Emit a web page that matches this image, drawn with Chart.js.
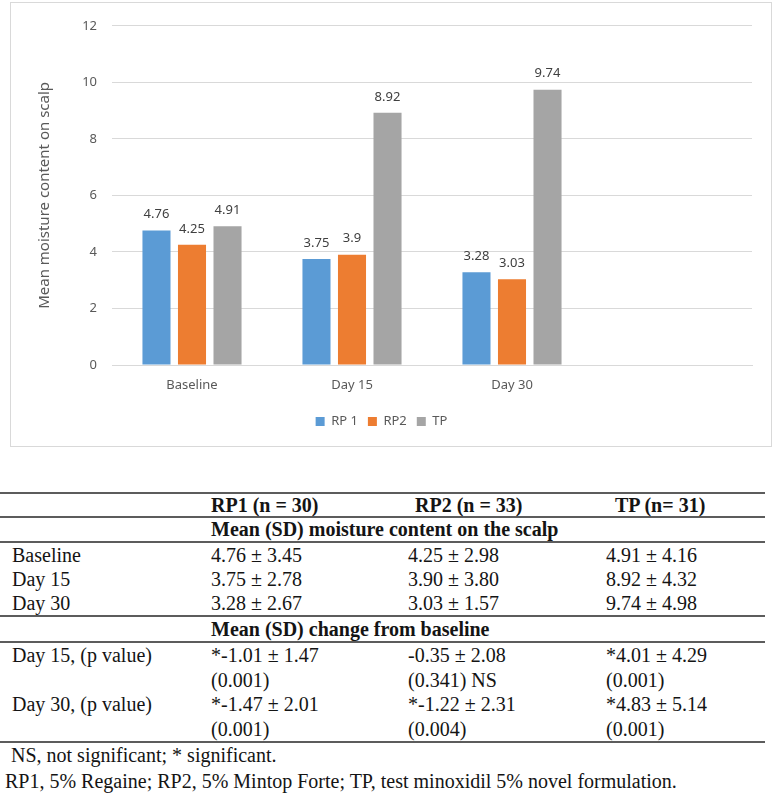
<!DOCTYPE html>
<html>
<head>
<meta charset="utf-8">
<title>Mean moisture content on scalp</title>
<script src="https://cdn.jsdelivr.net/npm/chart.js@4/dist/chart.umd.min.js"></script>
<style>
  html, body { margin:0; padding:0; background:#fff; }
  body { width:776px; height:796px; position:relative; overflow:hidden; }

  /* chart frame */
  #chartBox {
    position:absolute; left:10px; top:2px;
    width:762px; height:445px;
    box-sizing:border-box;
    border:1px solid #d9d9d9;
  }
  #chartBox canvas { display:block; }

  /* table under the chart */
  #tableBox {
    position:absolute; left:0; top:492px; width:765px;
    font-family:"Liberation Serif", "Times New Roman", serif;
    font-size:20px; color:#141414;
  }
  .row   { display:flex; height:24px; line-height:24px; white-space:nowrap; }
  .rule  { border-top:2px solid #5c5c5c; }
  .head  { height:22px; line-height:22px; font-weight:bold; }
  .sect  { height:23px; line-height:23px; font-weight:bold; padding-left:211px; }
  .sect2 { height:24px; line-height:24px; font-weight:bold; padding-left:211px; }
  .pv    { height:24.5px; line-height:24.5px; }
  .c0 { width:200px; padding-left:12px; box-sizing:border-box; }
  .c1 { width:198px; padding-left:11px; box-sizing:border-box; }
  .c2 { width:198px; padding-left:10px; box-sizing:border-box; }
  .c3 { width:169px; padding-left:10px; box-sizing:border-box; }
  .head .c2 { padding-left:17px; }
  .head .c3 { padding-left:19px; }
  .note  { height:24px; line-height:24px; padding-left:11px; white-space:nowrap; }
  .note2 { height:26px; line-height:26px; padding-left:5px; white-space:nowrap; margin-top:1px; }
</style>
</head>
<body>

<div id="chartBox"><canvas id="moistureChart" width="760" height="443"></canvas></div>

<div id="tableBox">
  <div class="row head rule">
    <div class="c0"></div>
    <div class="c1">RP1 (n = 30)</div>
    <div class="c2">RP2 (n = 33)</div>
    <div class="c3">TP (n= 31)</div>
  </div>
  <div class="row sect rule">Mean (SD) moisture content on the scalp</div>
  <div class="row rule">
    <div class="c0">Baseline</div>
    <div class="c1">4.76 ± 3.45</div>
    <div class="c2">4.25 ± 2.98</div>
    <div class="c3">4.91 ± 4.16</div>
  </div>
  <div class="row">
    <div class="c0">Day 15</div>
    <div class="c1">3.75 ± 2.78</div>
    <div class="c2">3.90 ± 3.80</div>
    <div class="c3">8.92 ± 4.32</div>
  </div>
  <div class="row">
    <div class="c0">Day 30</div>
    <div class="c1">3.28 ± 2.67</div>
    <div class="c2">3.03 ± 1.57</div>
    <div class="c3">9.74 ± 4.98</div>
  </div>
  <div class="row sect2 rule">Mean (SD) change from baseline</div>
  <div class="row pv rule">
    <div class="c0">Day 15, (p value)</div>
    <div class="c1">*-1.01 ± 1.47</div>
    <div class="c2">-0.35 ± 2.08</div>
    <div class="c3">*4.01 ± 4.29</div>
  </div>
  <div class="row pv">
    <div class="c0"></div>
    <div class="c1">(0.001)</div>
    <div class="c2">(0.341) NS</div>
    <div class="c3">(0.001)</div>
  </div>
  <div class="row pv">
    <div class="c0">Day 30, (p value)</div>
    <div class="c1">*-1.47 ± 2.01</div>
    <div class="c2">*-1.22 ± 2.31</div>
    <div class="c3">*4.83 ± 5.14</div>
  </div>
  <div class="row pv">
    <div class="c0"></div>
    <div class="c1">(0.001)</div>
    <div class="c2">(0.004)</div>
    <div class="c3">(0.001)</div>
  </div>
  <div class="note rule">NS, not significant; * significant.</div>
  <div class="note2">RP1, 5% Regaine; RP2, 5% Mintop Forte; TP, test minoxidil 5% novel formulation.</div>
</div>

<script>
/* -------------------------------------------
   DATA
   ------------------------------------------- */

// last category is left empty, like the original sheet
const categories = ["Baseline", "Day 15", "Day 30", ""];
const rp1Values  = [4.76, 3.75, 3.28, null];
const rp2Values  = [4.25, 3.9, 3.03, null];
const tpValues   = [4.91, 8.92, 9.74, null];

const seriesNames  = ["RP 1", "RP2", "TP"];
const seriesColors = ["#5b9bd5", "#ed7d31", "#a5a5a5"];

const yMin  = 0;
const yMax  = 12;
const yStep = 2;

const yTitle = "Mean moisture content on scalp";


/* -------------------------------------------
   VALUE LABELS above bars
   ------------------------------------------- */

const valueLabels = {
  id:"valueLabels",
  afterDatasetsDraw(chart){
    const ctx = chart.ctx;
    ctx.save();
    ctx.font = "13px 'Noto Sans'";
    ctx.fillStyle = "#404040";
    ctx.textAlign = "center";
    ctx.textBaseline = "middle";
    chart.data.datasets.forEach((ds, i)=>{
      const meta = chart.getDatasetMeta(i);
      meta.data.forEach((bar, j)=>{
        const v = ds.data[j];
        if(v === null || v === undefined) return;
        ctx.fillText(String(v), bar.x, bar.y - 16);
      });
    });
    ctx.restore();
  }
};


/* -------------------------------------------
   CHART
   ------------------------------------------- */

Chart.defaults.font.family = "'Noto Sans', sans-serif";
Chart.defaults.color = "#595959";

const allSeries = [rp1Values, rp2Values, tpValues];

new Chart(document.getElementById("moistureChart"),{
  type:"bar",
  data:{
    labels:categories,
    datasets:allSeries.map((vals, i)=>({
      label:seriesNames[i],
      data:vals,
      backgroundColor:seriesColors[i],
      categoryPercentage:0.666,
      barPercentage:0.79
    }))
  },
  options:{
    responsive:false,
    animation:false,
    layout:{ padding:{ top:19, right:19, bottom:8, left:0 } },
    plugins:{
      legend:{
        position:"bottom",
        labels:{
          boxWidth:9,
          boxHeight:9,
          padding:10,
          font:{ size:13 },
          color:"#595959"
        }
      },
      tooltip:{ enabled:false }
    },
    scales:{
      x:{
        grid:{ display:false, drawTicks:false },
        border:{ color:"#d9d9d9" },
        ticks:{ padding:12, font:{ size:13 }, color:"#595959" },
        afterFit(scale){ scale.height = 40; }
      },
      y:{
        min:yMin,
        max:yMax,
        ticks:{ stepSize:yStep, padding:15, font:{ size:13 }, color:"#595959" },
        grid:{ color:"#d9d9d9", drawTicks:false },
        border:{ display:false },
        title:{
          display:true,
          text:yTitle,
          color:"#595959",
          font:{ size:15 },
          padding:{ top:25, bottom:0 }
        },
        afterFit(scale){ scale.width = 101; }
      }
    }
  },
  plugins:[valueLabels]
});
</script>
</body>
</html>
